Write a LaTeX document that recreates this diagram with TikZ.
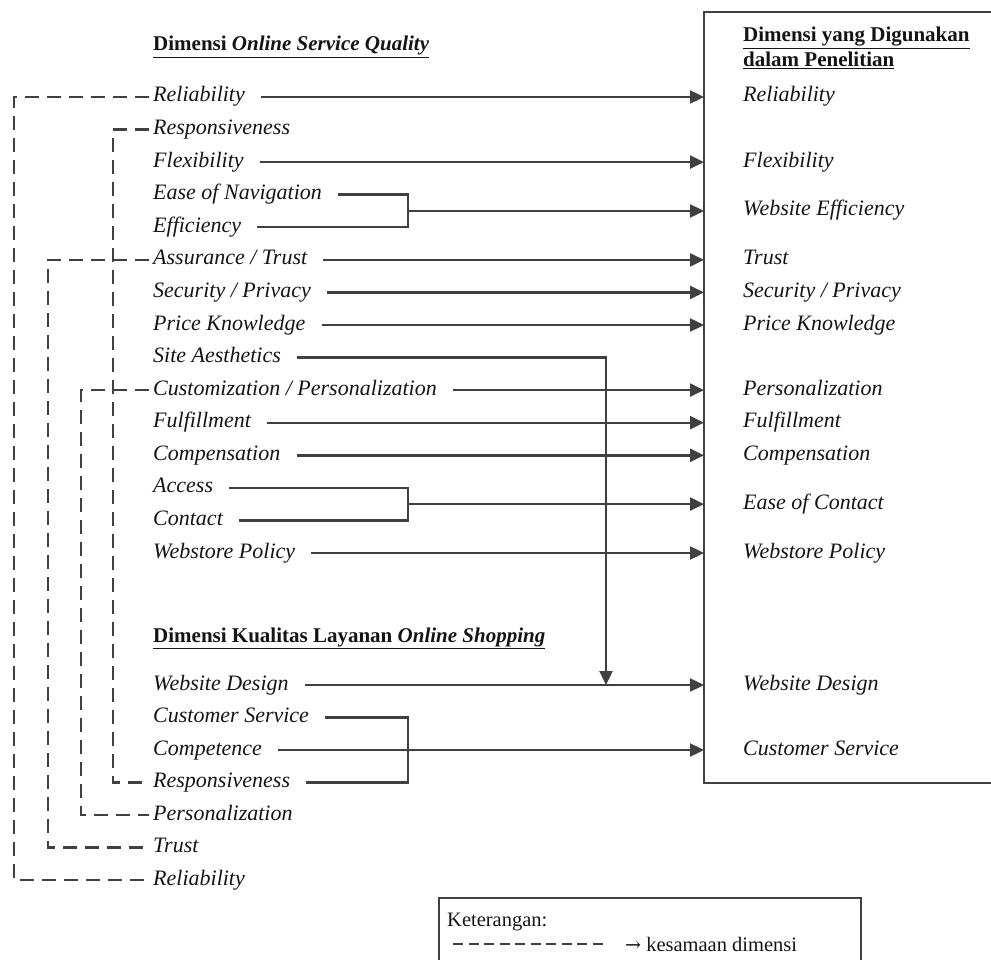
\documentclass[tikz,border=0pt]{standalone}
\usepackage{fontspec}
\setmainfont{Liberation Serif}
\newfontfamily\arrowfont{DejaVu Serif}
\usetikzlibrary{arrows.meta}
\definecolor{linec}{RGB}{64,64,64}
\definecolor{txtc}{RGB}{20,20,20}
\begin{document}
\begin{tikzpicture}[x=1pt,y=-1pt,
  item/.style={anchor=west, inner xsep=4pt, inner ysep=0pt, text height=15pt, text depth=5pt,
    font=\fontsize{22}{26}\selectfont\itshape, text=txtc},
  head/.style={inner sep=0pt, font=\fontsize{21}{25}\selectfont, text=txtc},
  legtext/.style={anchor=base west, inner sep=0pt, font=\fontsize{20.5}{24}\selectfont, text=txtc},
  sol/.style={draw=linec, line width=2.4pt},
  arr/.style={sol, -{Triangle[length=14pt,width=13pt]}},
  dsh/.style={draw=linec, line width=2.3pt, dash pattern=on 14pt off 8pt},
  dshleg/.style={draw=linec, line width=2.3pt, dash pattern=on 10pt off 5.5pt}]
\useasboundingbox (0,0) rectangle (991,960);

% headings
\node[head, anchor=base west] (h1) at (153,51) {\underline{\textbf{Dimensi \textit{Online Service Quality}}}};
\node[head, anchor=base west] (h2) at (153,642) {\underline{\textbf{Dimensi Kualitas Layanan \textit{Online Shopping}}}};
\node[head, anchor=north west, align=left] (h3) at (743,27) {\underline{\textbf{Dimensi yang Digunakan}}\\\underline{\textbf{dalam Penelitian}}};

% left items (top group)
\node[item] (rel1)  at (149,97.0)  {Reliability};
\node[item] (resp1) at (149,129.6) {Responsiveness};
\node[item] (flex)  at (149,162.1) {Flexibility};
\node[item] (ease)  at (149,194.7) {Ease of Navigation};
\node[item] (effi)  at (149,227.3) {Efficiency};
\node[item] (assu)  at (149,259.9) {Assurance / Trust};
\node[item] (secu)  at (149,292.4) {Security / Privacy};
\node[item] (price) at (149,325.0) {Price Knowledge};
\node[item] (site)  at (149,357.6) {Site Aesthetics};
\node[item] (cust)  at (149,390.1) {Customization / Personalization};
\node[item] (fulf)  at (149,422.7) {Fulfillment};
\node[item] (comp)  at (149,455.3) {Compensation};
\node[item] (acc)   at (149,487.8) {Access};
\node[item] (cont)  at (149,520.4) {Contact};
\node[item] (web)   at (149,553.0) {Webstore Policy};

% left items (bottom group)
\node[item] (wd)    at (149,685.0) {Website Design};
\node[item] (cs)    at (149,717.5) {Customer Service};
\node[item] (compe) at (149,750.0) {Competence};
\node[item] (resp2) at (149,782.5) {Responsiveness};
\node[item] (pers)  at (149,815.0) {Personalization};
\node[item] (trust) at (149,847.5) {Trust};
\node[item] (rel2)  at (149,880.0) {Reliability};

% right box
\draw[sol] (704,12) rectangle (1012,783);
\coordinate (bx) at (704,0);

% right labels
\node[item] (rrel)   at (739,97.0)  {Reliability};
\node[item] (rflex)  at (739,162.1) {Flexibility};
\node[item] (rweff)  at (739,211.0) {Website Efficiency};
\node[item] (rtrust) at (739,259.9) {Trust};
\node[item] (rsec)   at (739,292.4) {Security / Privacy};
\node[item] (rprice) at (739,325.0) {Price Knowledge};
\node[item] (rpers)  at (739,390.1) {Personalization};
\node[item] (rfulf)  at (739,422.7) {Fulfillment};
\node[item] (rcomp)  at (739,455.3) {Compensation};
\node[item] (reoc)   at (739,504.1) {Ease of Contact};
\node[item] (rwpol)  at (739,553.0) {Webstore Policy};
\node[item] (rwd)    at (739,685.0) {Website Design};
\node[item] (rcs)    at (739,750.0) {Customer Service};

% junction coordinates
\coordinate (bj) at (408,0);
\coordinate (sd) at (606,0);
\coordinate (m1) at (408,211.0);
\coordinate (m2) at (408,504.1);

% straight arrows
\foreach \n in {rel1,flex,assu,secu,price,cust,fulf,comp,web,wd,compe}
  \draw[arr] ([xshift=12pt]\n.east) -- (\n -| bx);

% bracket: Ease of Navigation + Efficiency
\draw[sol] ([xshift=12pt]ease.east) -- (ease -| bj) -- (effi -| bj) -- ([xshift=12pt]effi.east);
\draw[arr] (m1) -- (m1 -| bx);

% bracket: Access + Contact
\draw[sol] ([xshift=12pt]acc.east) -- (acc -| bj) -- (cont -| bj) -- ([xshift=12pt]cont.east);
\draw[arr] (m2) -- (m2 -| bx);

% bracket: Customer Service + Responsiveness (Competence passes through)
\draw[sol] ([xshift=12pt]cs.east) -- (cs -| bj) -- (resp2 -| bj) -- ([xshift=12pt]resp2.east);

% Site Aesthetics down to Website Design
\draw[arr] ([xshift=12pt]site.east) -- (site -| sd) -- (wd -| sd);

% dashed similarity links
\coordinate (d1) at (14,0);
\coordinate (d2) at (48,0);
\coordinate (d3) at (81,0);
\coordinate (d4) at (113,0);
\draw[dsh] (rel1.west) -- (rel1.west -| d1) -- (rel2.west -| d1) -- (rel2.west);
\draw[dsh] (assu.west) -- (assu.west -| d2) -- (trust.west -| d2) -- (trust.west);
\draw[dsh] (cust.west) -- (cust.west -| d3) -- (pers.west -| d3) -- (pers.west);
\draw[dsh] (resp1.west) -- (resp1.west -| d4) -- (resp2.west -| d4) -- (resp2.west);

% legend
\draw[sol] (439,898) rectangle (861,990);
\node[legtext] (ket) at (447,926) {Keterangan:};
\coordinate (lg1) at (453,944);
\coordinate (lg2) at (606,944);
\draw[dshleg] (lg1) -- (lg2);
\node[legtext] (kes) at (625,951) {{\arrowfont\fontsize{19}{24}\selectfont →} kesamaan dimensi};
\end{tikzpicture}
\end{document}
